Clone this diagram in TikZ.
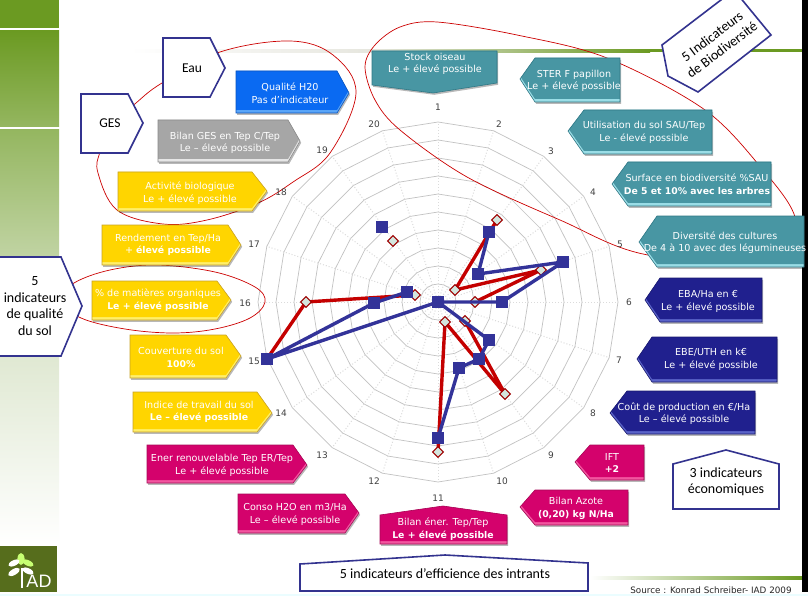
\documentclass[tikz,border=0pt]{standalone}
\usepackage{fontspec}
\setmainfont{DejaVu Sans}
\newfontfamily\calfont{Carlito}
\newfontfamily\arialfont{Liberation Sans}
\definecolor{cteal}{HTML}{4896A3}
\definecolor{ctealE}{HTML}{2F7785}
\definecolor{ctealL}{HTML}{9ADDE6}
\definecolor{cyel}{HTML}{FFD500}
\definecolor{cyelE}{HTML}{C9A227}
\definecolor{cyelL}{HTML}{FFEF6A}
\definecolor{cmag}{HTML}{D4026C}
\definecolor{cmagE}{HTML}{A80A58}
\definecolor{cmagL}{HTML}{F2559F}
\definecolor{cnavy}{HTML}{20208E}
\definecolor{cnavyE}{HTML}{1A1A70}
\definecolor{cnavyL}{HTML}{5A63C8}
\definecolor{cblue}{HTML}{0A6AF2}
\definecolor{cblueE}{HTML}{0A55C0}
\definecolor{cblueL}{HTML}{59A5F8}
\definecolor{cgray}{HTML}{A6A6A6}
\definecolor{cgrayE}{HTML}{8A8A8A}
\definecolor{cgrayL}{HTML}{E6E6E6}
\definecolor{cframe}{HTML}{33338F}
\definecolor{cgreen}{HTML}{6B9A22}
\definecolor{credl}{HTML}{C40000}
\definecolor{cbluel}{HTML}{333399}
\definecolor{clogo}{HTML}{566D1C}
\definecolor{cdia}{HTML}{D3E6DE}
\definecolor{cpale}{HTML}{E6E6DE}
\newcommand\bft[1]{{\fontsize{9.3}{12.6}\selectfont\bfseries #1}}
\tikzset{
  lbl/.style={text=white,align=center,font=\fontsize{9.6}{12.6}\selectfont,inner sep=0pt},
  frameshape/.style={draw=cframe,line width=1.6pt,fill=white,line join=miter},
  frametext/.style={text=black,align=center,font=\calfont\fontsize{14}{16.5}\selectfont,inner sep=0pt},
  axlbl/.style={text=black!75,font=\fontsize{9}{10}\selectfont,inner sep=0pt},
  redcurve/.style={draw=red!80!black,line width=.7pt},
  ringline/.style={draw=black!24,line width=.7pt},
  spoke/.style={draw=black!14,line width=1pt,dotted},
  redser/.style={draw=credl,line width=3.4pt,line join=round},
  bluser/.style={draw=cbluel,line width=3.4pt,line join=round},
  bsq/.style={draw=none,fill=cbluel,minimum size=12pt,inner sep=0pt,rectangle},
  rdia/.style={draw=credl!80!black,line width=1pt,fill=cdia,minimum size=7.5pt,inner sep=0pt,rectangle,rotate=45},
}
\newcommand\bev[4]{%
  \path[fill=black,opacity=.28,shift={(1.2,1.8)}] #1 -- cycle;
  \begin{scope}
    \clip #1 -- cycle;
    \fill[#4] (0,-20) rectangle (820,620);
    \path[fill=#2,shift={(0,-3)}] #1 -- cycle;
  \end{scope}
  \path[draw=#3,line width=.6pt] #1 -- cycle;
}
\begin{document}
\begin{tikzpicture}[x=1pt,y=-1pt]
\useasboundingbox (0,0) rectangle (808,596);
\clip (0,0) rectangle (808,596);
\fill[white] (0,0) rectangle (808,596);
% left band
\fill[cgreen] (0,0) rectangle (59,28);
\shade[top color=cgreen,bottom color=cgreen!72!white] (0,31) rectangle (59,127);
\shade[top color=cgreen!72!white,bottom color=white,middle color=black!8!cgreen!22!white] (0,130) rectangle (59,545);
% horizontal lines
\shade[left color=white,right color=cpale] (130,49.5) rectangle (372,52.5);
\shade[left color=cpale,right color=cgreen] (372,49.5) rectangle (650,52.5);
\fill[cgreen] (650,49.5) rectangle (802,52.5);
\shade[left color=white,right color=cgreen] (590,576.5) rectangle (802,579.5);
% bottom strip
\fill[blue!8!cyan!8!white] (0,593.5) rectangle (808,596);
% logo
\fill[clogo] (0,546) rectangle (57,592);
\fill[white] (21.3,568) rectangle (23,588);
\fill[green!40!yellow!55!white] (21,559) ellipse (3.6 and 6);
\fill[white,rotate around={25:(14,563)}] (14,563) ellipse (6 and 2.8);
\fill[green!40!yellow!55!white,rotate around={-25:(28,563)}] (28,563) ellipse (6 and 2.8);
\fill[white,rotate around={30:(14,572)}] (14,572) ellipse (6.5 and 3);
\fill[white,rotate around={-25:(28,571)}] (28,571) ellipse (6 and 2.8);
\node[text=white,inner sep=0pt,font=\arialfont\fontsize{18}{18}\selectfont] (logoiad) at (39,581.5) {AD};
% right strip
\fill[black] (802,0) rectangle (808,592);
% radar grid
\foreach \r in {18,36,...,180}{
  \draw[ringline] plot[samples at={0,18,...,342}] ({438+\r*sin(\x)},{302-\r*cos(\x)}) -- cycle;
}
\foreach \a in {0,18,...,342}{
  \draw[spoke] (438,302) -- ({438+180*sin(\a)},{302-180*cos(\a)});
}
% red curves
\draw[redcurve] plot[smooth cycle,tension=.6] coordinates {(220,52) (290,41) (333,55) (356,93) (330,153) (293,182) (258,203) (207,220) (163,224) (117,210) (98,173) (100,152) (112,125) (136,103) (162,83)};
\draw[redcurve] plot[smooth cycle,tension=.6] coordinates {(74,283) (110,270) (157,265) (215,272) (255,287) (265,302) (250,318) (215,329) (173,333) (125,329) (81,318) (60,300)};
\draw[redcurve] plot[smooth cycle,tension=.55] coordinates {(365,67) (375,45) (400,27) (437,22) (517,35) (607,58) (705,110) (763,170) (795,217) (790,262) (648,255) (560,220) (467,177) (400,130) (375,100)};
% axis labels
\foreach \n/\x/\y in {1/438/107,2/499/124,3/551/151,4/593/192,5/620/244,6/629/302,7/619/360,8/593/413,9/551/455,10/502/481,11/438/498,12/374/481,13/322/455,14/281/413,15/254/361,16/245/303,17/254/244,18/281/192,19/322/150,20/374/124}{
  \node[axlbl] (ax\n) at (\x,\y) {\n};
}
% series coordinates
\coordinate (r3) at (497,220); \coordinate (r4) at (455,290); \coordinate (r5) at (541,270); \coordinate (r6) at (475,302);
\coordinate (r8) at (465,321); \coordinate (r9) at (505,394); \coordinate (r10) at (445,322); \coordinate (r11) at (438,452);
\coordinate (r15) at (267,359); \coordinate (r16) at (306,302); \coordinate (r17) at (415,295); \coordinate (r19) at (393,241);
\coordinate (b3) at (489,232); \coordinate (b4) at (478,274); \coordinate (b5) at (563,262); \coordinate (b6) at (502,302);
\coordinate (b7) at (438,302); \coordinate (b8) at (489,340); \coordinate (b9) at (479,359); \coordinate (b10) at (459,368);
\coordinate (b11) at (438,438); \coordinate (b15) at (267,359); \coordinate (b16) at (374,303); \coordinate (b17) at (407,292); \coordinate (b19) at (382,227);
% red series
\draw[redser] (r3) -- (r4) -- (r5) -- (r6);
\draw[redser] (r8) -- (r9) -- (r10) -- (r11);
\draw[redser] (r15) -- (r16) -- (r17);
\foreach \k in {3,4,5,6,8,9,10,11,15,16,17,19}{ \node[rdia] (rm\k) at (r\k) {}; }
% blue series
\draw[bluser] (b3) -- (b4) -- (b5) -- (b6) -- (b7) -- (b8) -- (b9) -- (b10) -- (b11);
\draw[bluser] (b7) -- (b15) -- (b16) -- (b17);
\foreach \k in {3,4,5,6,7,8,9,10,11,15,16,17,19}{ \node[bsq] (bm\k) at (b\k) {}; }
% frame shapes
\path[frameshape] (163,38) -- (210,38) -- (225,68) -- (210,97) -- (163,97) -- cycle;
\node[frametext,font=\calfont\fontsize{13.5}{14}\selectfont] (eau) at (192,68) {Eau};
\path[frameshape] (81,94) -- (128,94) -- (143,123) -- (128,153) -- (81,153) -- cycle;
\node[frametext,font=\calfont\fontsize{13.5}{14}\selectfont] (ges) at (110,123) {GES};
\path[frameshape] (-3,257) -- (61,257) -- (82,306) -- (61,356) -- (-3,356) -- cycle;
\node[frametext] (qualsol) at (35,306) {5\\indicateurs\\de qualité\\du sol};
\path[frameshape] (662,45) -- (734,-10) -- (771,35) -- (698,92) -- (668,76) -- cycle;
\node[frametext,rotate=37] (biodiv) at (717,43) {5 Indicateurs\\de Biodiversité};
\path[frameshape] (673,464) -- (726,450) -- (779,464) -- (779,509) -- (673,509) -- cycle;
\node[frametext] (eco) at (726,482) {3 indicateurs\\économiques};
\path[frameshape] (300,564) -- (445,555) -- (588,563) -- (588,591) -- (300,591) -- cycle;
\node[frametext] (effic) at (445,574) {5 indicateurs d’efficience des intrants};
% left arrows
\bev{(236,71) -- (337,71) -- (349,93) -- (337,113) -- (236,113)}{cblue}{cblueE}{cblueL}
\node[lbl] (t20) at (290,93) {Qualité H20\\Pas d'indicateur};
\bev{(158,120) -- (288,120) -- (300,141) -- (288,162) -- (158,162)}{cgray}{cgrayE}{cgrayL}
\node[lbl] (t19) at (225,143) {Bilan GES en  Tep C/Tep\\Le – élevé possible};
\bev{(118,172) -- (252,172) -- (267,191) -- (252,211) -- (118,211)}{cyel}{cyelE}{cyelL}
\node[lbl] (t18) at (190,193) {Activité biologique\\Le + élevé possible};
\bev{(102,225) -- (228,225) -- (241,245) -- (228,265) -- (102,265)}{cyel}{cyelE}{cyelL}
\node[lbl] (t17) at (168,245) {Rendement  en Tep/Ha\\+ \bft{élevé possible}};
\bev{(92,281) -- (217,281) -- (231,300) -- (217,320) -- (92,320)}{cyel}{cyelE}{cyelL}
\node[lbl] (t16) at (158,300) {\% de matières organiques\\\bft{Le + élevé possible}};
\bev{(130,335) -- (226,335) -- (241,356) -- (226,378) -- (130,378)}{cyel}{cyelE}{cyelL}
\node[lbl] (t15) at (181,357.5) {Couverture du sol\\\bft{100\%}};
\bev{(133,392) -- (257,392) -- (272,413) -- (257,432) -- (133,432)}{cyel}{cyelE}{cyelL}
\node[lbl] (t14) at (199,412) {Indice de travail du sol\\\bft{Le – élevé possible}};
\bev{(147,445) -- (293,445) -- (307,465) -- (293,483) -- (147,483)}{cmag}{cmagE}{cmagL}
\node[lbl] (t13) at (222,465.5) {Ener renouvelable Tep ER/Tep\\Le + élevé possible};
\bev{(238,494) -- (345,494) -- (359,513) -- (345,533) -- (238,533)}{cmag}{cmagE}{cmagL}
\node[lbl] (t12) at (295,514.5) {Conso H2O en m3/Ha\\Le – élevé possible};
\bev{(380,515) -- (443,506) -- (507,515) -- (507,544) -- (380,544)}{cmag}{cmagE}{cmagL}
\node[lbl] (t11) at (443,529) {Bilan éner. Tep/Tep\\\bft{Le + élevé possible}};
% right arrows
\bev{(520,507) -- (535,490) -- (628,490) -- (628,525) -- (535,525)}{cmag}{cmagE}{cmagL}
\node[lbl] (t10) at (576,508.5) {Bilan Azote\\\bft{(0,20) kg N/Ha}};
\bev{(575,462) -- (590,445) -- (644,445) -- (644,480) -- (590,480)}{cmag}{cmagE}{cmagL}
\node[lbl] (t9) at (612,463) {IFT\\\bft{+2}};
\bev{(610,413) -- (627,391) -- (755,391) -- (755,434) -- (627,434)}{cnavy}{cnavyE}{cnavyL}
\node[lbl] (t8) at (684,413.5) {Coût de production en €/Ha\\Le – élevé possible};
\bev{(637,359) -- (652,337) -- (777,337) -- (777,382) -- (652,382)}{cnavy}{cnavyE}{cnavyL}
\node[lbl] (t7) at (711,359.5) {EBE/UTH en k€\\Le + élevé possible};
\bev{(645,300) -- (660,278) -- (762,278) -- (762,322) -- (660,322)}{cnavy}{cnavyE}{cnavyL}
\node[lbl] (t6) at (708,301.5) {EBA/Ha en €\\Le + élevé possible};
\bev{(639,242) -- (657,216) -- (804,216) -- (804,267) -- (657,267)}{cteal}{ctealE}{ctealL}
\node[lbl] (t5) at (725,242.5) {Diversité des cultures\\De 4 à 10 avec des légumineuses};
\bev{(612,184) -- (628,162) -- (771,162) -- (771,206) -- (628,206)}{cteal}{ctealE}{ctealL}
\node[lbl] (t4) at (697,184.5) {Surface en biodiversité \%SAU\\\bft{De 5 et 10\% avec les arbres}};
\bev{(568,131) -- (584,110) -- (712,110) -- (712,154) -- (584,154)}{cteal}{ctealE}{ctealL}
\node[lbl] (t3) at (644,132.5) {Utilisation du sol SAU/Tep\\Le - élevé possible};
\bev{(520,79) -- (535,58) -- (620,58) -- (620,102) -- (535,102)}{cteal}{ctealE}{ctealL}
\node[lbl] (t2) at (574,81) {STER F papillon\\Le + élevé possible};
\bev{(372,51) -- (497,51) -- (497,83) -- (433,93) -- (372,85)}{cteal}{ctealE}{cteal}
\node[lbl] (t1) at (435,64) {Stock oiseau\\Le + élevé possible};
% source
\node[text=black!85,inner sep=0pt,font=\fontsize{8.8}{9}\selectfont] (src) at (711,590) {Source : Konrad Schreiber- IAD 2009};
\end{tikzpicture}
\end{document}
